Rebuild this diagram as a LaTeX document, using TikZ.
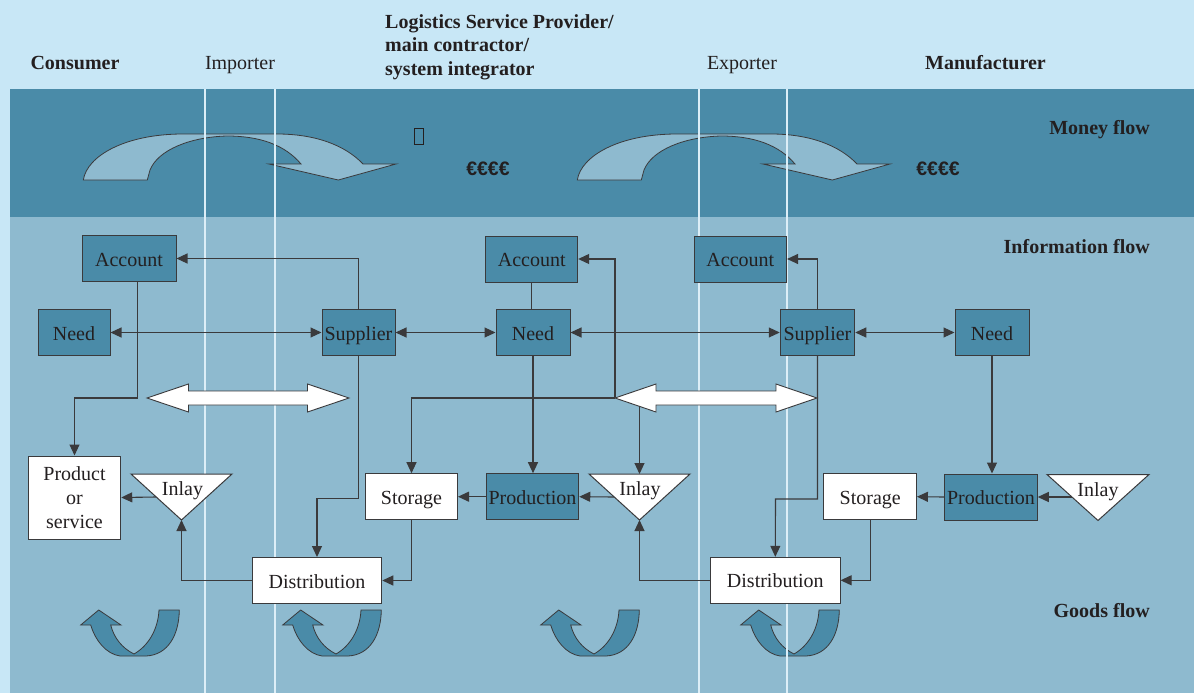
\documentclass[tikz,border=0pt]{standalone}
\usepackage{fontspec}
\setmainfont{Liberation Serif}
\newfontfamily\eurofont{Liberation Sans}
\usetikzlibrary{arrows.meta,calc}

\definecolor{hdrbg}{HTML}{C8E7F6}
\definecolor{moneybg}{HTML}{4A8BA8}
\definecolor{lowbg}{HTML}{8EBACF}
\definecolor{darkfill}{HTML}{4A8BA8}
\definecolor{ink}{HTML}{231F20}
\definecolor{edge}{HTML}{3A3A3C}
\definecolor{lane}{HTML}{DCEEF7}

\tikzset{
  txt/.style={font=\fontsize{20}{24}\selectfont, text=ink, inner sep=0pt},
  btxt/.style={font=\fontsize{20}{24}\selectfont\bfseries, text=ink, inner sep=0pt},
  box/.style={txt, draw=edge, line width=1pt, inner sep=0pt, text height=15pt, text depth=0pt, minimum height=46pt},
  darkbox/.style={box, fill=darkfill},
  whitebox/.style={box, fill=white},
  conn/.style={draw=edge, line width=1.1pt},
  wide/.style={draw=edge, line width=0.9pt, fill=white},
  lanes/.style={draw=lane, line width=1.5pt},
  money/.pic={
    \path[draw=edge, line width=0.8pt, fill=lowbg]
      (83.3,180) .. controls (87,156) and (125,134) .. (183,134) -- (277,134)
      .. controls (315,134) and (345,145) .. (363,164) -- (396,164) -- (338.3,180)
      -- (269,164) -- (301,164) .. controls (285,145) and (260,136) .. (227,136)
      .. controls (190,137) and (158,150) .. (150,170) -- (147.3,180) -- cycle;
  },
  goods/.pic={
    \path[draw=edge, line width=0.8pt, fill=darkfill]
      (179.3,610) .. controls (179,635) and (168,655) .. (146,656) -- (120,656)
      .. controls (106,654) and (95,640) .. (90.7,625) -- (80.7,625) -- (98.7,610)
      -- (121,625) -- (110.7,625) .. controls (114,638) and (122,648) .. (134,654)
      .. controls (148,646) and (158,630) .. (159,610) -- cycle;
  },
  >={Triangle[length=11pt,width=10pt]}
}

\begin{document}
\begin{tikzpicture}[x=1pt,y=-1pt]
\useasboundingbox (0,0) rectangle (1194,693);

% bands
\fill[hdrbg] (0,0) rectangle (1194,693);
\fill[moneybg] (10,89) rectangle (1194,216.5);
\fill[lowbg] (10,216.5) rectangle (1194,693);

% money and goods arrows
\pic at (0,0) {money};
\pic at (494,0) {money};
\pic at (0,0) {goods};
\pic at (202,0) {goods};
\pic at (460,0) {goods};
\pic at (660,0) {goods};

% lane separators
\foreach \lx in {205,275,699,787}
  \draw[lanes] (\lx,89) -- (\lx,693);

% headings
\node[btxt, anchor=base] (consumer) at (75,70) {Consumer};
\node[txt, anchor=base] (importer) at (240,70) {Importer};
\node[btxt, anchor=base west] (lsp1) at (385,28.3) {Logistics Service Provider/};
\node[btxt, anchor=base west] (lsp2) at (385,52) {main contractor/};
\node[btxt, anchor=base west] (lsp3) at (385,76) {system integrator};
\node[txt, anchor=base] (exporter) at (742,70) {Exporter};
\node[btxt, anchor=base] (maker) at (985.5,70) {Manufacturer};

\node[btxt, anchor=base east] (money) at (1150,134) {Money flow};
\node[btxt, anchor=base east] (info) at (1150,253) {Information flow};
\node[btxt, anchor=base east] (goods) at (1150,617) {Goods flow};

\node[draw=ink, line width=0.8pt, minimum width=9pt, minimum height=16pt, inner sep=0pt] (glyph) at (419,136.5) {};
\node[btxt, font=\fontsize{19.5}{24}\selectfont\eurofont\bfseries, anchor=base] (eur1) at (488,175) {€€€€};
\node[btxt, font=\fontsize{19.5}{24}\selectfont\eurofont\bfseries, anchor=base] (eur2) at (938,175) {€€€€};

% boxes
\node[darkbox, minimum width=94pt] (acc1) at (129,258.5) {Account};
\node[darkbox, minimum width=72pt] (need1) at (74,332.5) {Need};
\node[darkbox, minimum width=73pt] (sup1) at (358.5,332.5) {Supplier};
\node[darkbox, minimum width=92pt] (acc2) at (531.7,259) {Account};
\node[darkbox, minimum width=74pt] (need2) at (533,332.5) {Need};
\node[darkbox, minimum width=92.5pt] (acc3) at (740.3,259) {Account};
\node[darkbox, minimum width=74.5pt] (sup2) at (817.5,332.5) {Supplier};
\node[darkbox, minimum width=74pt] (need3) at (992,332.5) {Need};
\node[whitebox, minimum width=92pt] (sto1) at (411.5,496.7) {Storage};
\node[darkbox, minimum width=92.5pt] (prod1) at (532.5,496.7) {Production};
\node[whitebox, minimum width=129.5pt] (dist1) at (317,580.5) {Distribution};
\node[whitebox, minimum width=92.5pt] (sto2) at (870.2,496.7) {Storage};
\node[whitebox, minimum width=129.5pt] (dist2) at (775.3,580.3) {Distribution};
\node[darkbox, minimum width=92.5pt] (prod2) at (991,497) {Production};
\node[txt, draw=edge, fill=white, line width=1pt, minimum width=92.5pt, minimum height=83pt,
      align=center, inner sep=0pt] (prod0) at (74.5,497.5) {Product\\or\\service};

% inlay triangles
\coordinate (in1apex) at (181.5,520);
\coordinate (in1left) at (156.3,497);
\draw[draw=edge, fill=white, line width=1pt] (131,474) -- (232,474) -- (in1apex) -- cycle;
\node[txt, anchor=base] (in1) at (182.5,495) {Inlay};

\coordinate (in2apex) at (639.5,520);
\coordinate (in2left) at (614.3,497);
\coordinate (in2top) at (639.5,474);
\draw[draw=edge, fill=white, line width=1pt] (589,474) -- (690,474) -- (in2apex) -- cycle;
\node[txt, anchor=base] (in2) at (640,495) {Inlay};

\coordinate (in3apex) at (1098,520.5);
\coordinate (in3left) at (1072.3,497);
\draw[draw=edge, fill=white, line width=1pt] (1047,474.5) -- (1149,474.5) -- (in3apex) -- cycle;
\node[txt, anchor=base] (in3) at (1098,496) {Inlay};

% junction points
\coordinate (k0) at (137.5,398);
\coordinate (k1) at (317,498.5);
\coordinate (k2) at (775.5,499);
\coordinate (jL) at (615,398);
\coordinate (jI) at (639.5,398);

% information flow
\draw[conn,->] (sup1.north) |- (acc1.east);
\draw[conn,<->] (need1.east) -- (sup1.west);
\draw[conn,<->] (sup1.east) -- (need2.west);
\draw[conn,<->] (need2.east) -- (sup2.west);
\draw[conn,<->] (sup2.east) -- (need3.west);
\draw[conn] (acc2.south) -- (acc2.south |- need2.north);
\draw[conn,->] (sup2.north) |- (acc3.east);
\draw[conn,->] (jL) |- (acc2.east);
\draw[conn,->] (jL) -| (sto1.north);
\draw[conn,->] (jI) -- (in2top);
\draw[conn,->] (k0 |- acc1.south) -- (k0) -| (prod0.north);
\draw[conn,->] (need2.south) -- (need2.south |- prod1.north);
\draw[conn,->] (need3.south) -- (need3.south |- prod2.north);

% goods flow
\draw[conn,->] (sup1.south) |- (k1) -- (dist1.north);
\draw[conn,->] (sup2.south) |- (k2) -- (dist2.north);
\draw[conn,->] (sto1.south) |- (dist1.east);
\draw[conn,->] (sto2.south) |- (dist2.east);
\draw[conn,->] (prod1.west) -- (sto1.east);
\draw[conn,->] (prod2.west) -- (sto2.east);
\draw[conn,->] (in2left) -- (prod1.east);
\draw[conn,->] (in3left) -- (prod2.east);
\draw[conn,->] (in1left) -- (prod0.east);
\draw[conn,->] (dist1.west) -| (in1apex);
\draw[conn,->] (dist2.west) -| (in2apex);

% wide two-way arrows
\path[wide] (147,398) -- (188.5,384) -- (188.5,391) -- (307.5,391) -- (307.5,384) -- (349,398)
  -- (307.5,412) -- (307.5,405) -- (188.5,405) -- (188.5,412) -- cycle;
\path[wide] (615,398) -- (656,384) -- (656,391) -- (776,391) -- (776,384) -- (817,398)
  -- (776,412) -- (776,405) -- (656,405) -- (656,412) -- cycle;
\end{tikzpicture}
\end{document}
